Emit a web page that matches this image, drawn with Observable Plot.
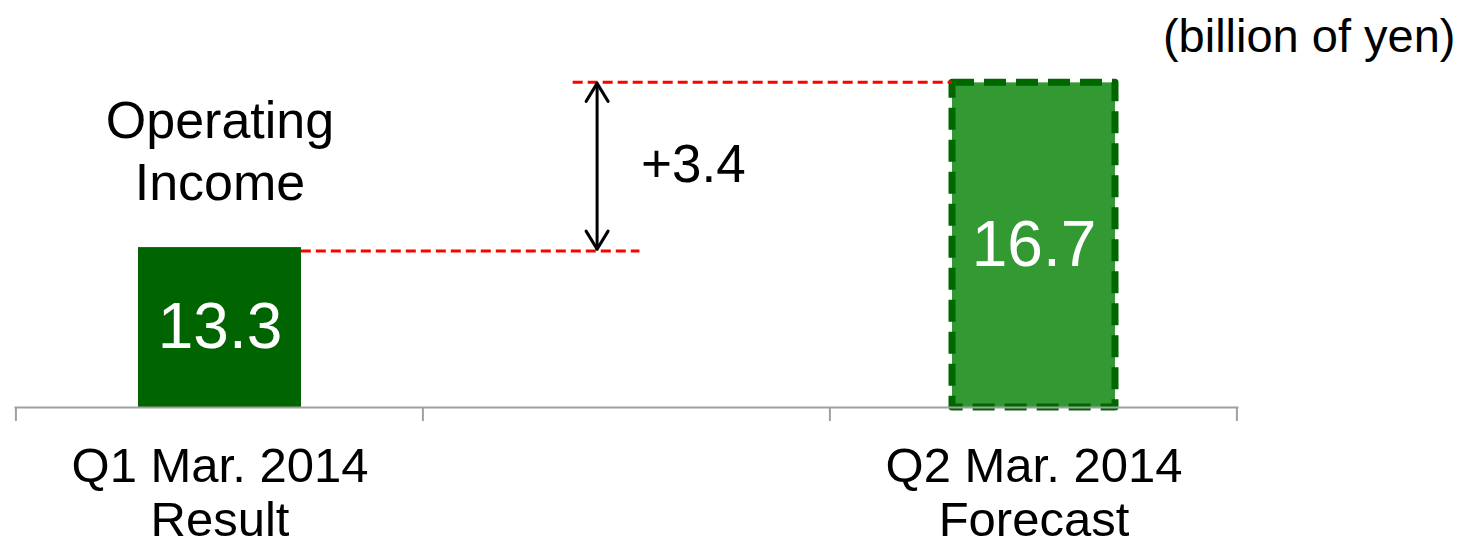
<!DOCTYPE html>
<html><head><meta charset="utf-8">
<script src="https://cdn.jsdelivr.net/npm/d3@7"></script>
<script src="https://cdn.jsdelivr.net/npm/@observablehq/plot@0.6"></script>
<style>html,body{margin:0;padding:0;background:#fff;overflow:hidden;}</style>
</head><body><div id="chart"></div>
<script>
const categories = ["Q1", "gap", "Q2"];
const tickLabels = ["Q1 Mar. 2014\nResult", "", "Q2 Mar. 2014\nForecast"];
const kinds = ["Result", null, "Forecast"];
const values = [13.3, null, 16.7];
const valueLabels = ["13.3", null, "16.7"];
const baseline = 10;
const yMax = 18.4;
const diffLabel = "+3.4";
const title = "Operating\nIncome";
const unitLabel = "(billion of yen)";

const rows = categories.map((c, i) => ({cat: c, value: values[i], label: valueLabels[i], kind: kinds[i]}))
  .filter(d => d.value != null);
const q1 = rows[0], q2 = rows[1];
const padIn = 0.6, padOut = 0.3;
const FONT = "'Liberation Sans', Arial, Helvetica, sans-serif";

function annotations(index, scales) {
  const x = scales.x, y = scales.y;
  const step = x(categories[1]) - x(categories[0]);
  const bw = step * (1 - padIn);
  const g = d3.create("svg:g");
  const gapX = x("gap");
  const yLow = y(q1.value) + 4, yHigh = y(q2.value);
  // red dashed guide lines
  g.append("line").attr("x1", x(q1.cat) + bw).attr("x2", gapX + 0.58 * bw)
    .attr("y1", yLow).attr("y2", yLow)
    .attr("stroke", "#ff0000").attr("stroke-width", 3).attr("stroke-dasharray", "10,5");
  g.append("line").attr("x1", gapX + 0.17 * bw).attr("x2", x(q2.cat))
    .attr("y1", yHigh).attr("y2", yHigh)
    .attr("stroke", "#ff0000").attr("stroke-width", 3).attr("stroke-dasharray", "10,5");
  // double arrow
  const ax = gapX + 0.32 * bw;
  const a = g.append("g").attr("stroke", "#000").attr("stroke-width", 3).attr("fill", "none")
    .attr("stroke-linecap", "round").attr("stroke-linejoin", "round");
  a.append("line").attr("x1", ax).attr("x2", ax).attr("y1", yHigh + 1).attr("y2", yLow - 2);
  a.append("path").attr("d", `M${ax - 11},${yHigh + 19}L${ax},${yHigh + 1}L${ax + 11},${yHigh + 19}`);
  a.append("path").attr("d", `M${ax - 11},${yLow - 20}L${ax},${yLow - 2}L${ax + 11},${yLow - 20}`);
  // axis ticks at band boundaries
  const x0 = x(categories[0]) - padOut * step;
  const y0 = y(baseline);
  for (let i = 0; i <= categories.length; i++) {
    g.append("line").attr("x1", x0 + i * step).attr("x2", x0 + i * step)
      .attr("y1", y0).attr("y2", y0 + 14)
      .attr("stroke", "#a0a0a0").attr("stroke-width", 2);
  }
  return g.node();
}

const chart = Plot.plot({
  width: 1464,
  height: 539,
  marginLeft: 15,
  marginRight: 227,
  marginTop: 0,
  marginBottom: 132,
  style: {fontFamily: FONT, background: "#fff", overflow: "visible"},
  x: {domain: categories, paddingInner: padIn, paddingOuter: padOut, label: null},
  y: {domain: [baseline, yMax], axis: null},
  marks: [
    Plot.barY(rows.filter(d => d.kind === "Result"), {x: "cat", y1: baseline, y2: "value", fill: "#006400"}),
    Plot.barY(rows.filter(d => d.kind === "Forecast"), {
      x: "cat", y1: baseline, y2: "value", fill: "#339933",
      stroke: "#006600", strokeWidth: 7, strokeDasharray: "22,10", strokeLinejoin: "round"
    }),
    Plot.frame({anchor: "bottom", stroke: "#a0a0a0", strokeWidth: 2}),
    annotations,
    Plot.axisX({
      tickSize: 0, tickPadding: 36, fontSize: 49, lineHeight: 1.1, label: null,
      tickFormat: d => tickLabels[categories.indexOf(d)], fill: "#000"
    }),
    Plot.text(rows, {x: "cat", y: d => (baseline + d.value) / 2, text: "label", fill: "#fff", fontSize: 64}),
    Plot.text([title], {x: () => q1.cat, y: () => q1.value, text: d => d, lineAnchor: "bottom",
      dy: -48, fontSize: 52, lineHeight: 1.18, fill: "#000"}),
    Plot.text([diffLabel], {x: () => "gap", y: () => (q1.value + q2.value) / 2, text: d => d,
      textAnchor: "start", dx: 14, fontSize: 53, fill: "#000"}),
    Plot.text([unitLabel], {frameAnchor: "top-right", text: d => d, textAnchor: "end", lineAnchor: "top",
      dx: 218, dy: 18, fontSize: 47, fill: "#000"})
  ]
});
document.getElementById("chart").appendChild(chart);
</script>
</body></html>
